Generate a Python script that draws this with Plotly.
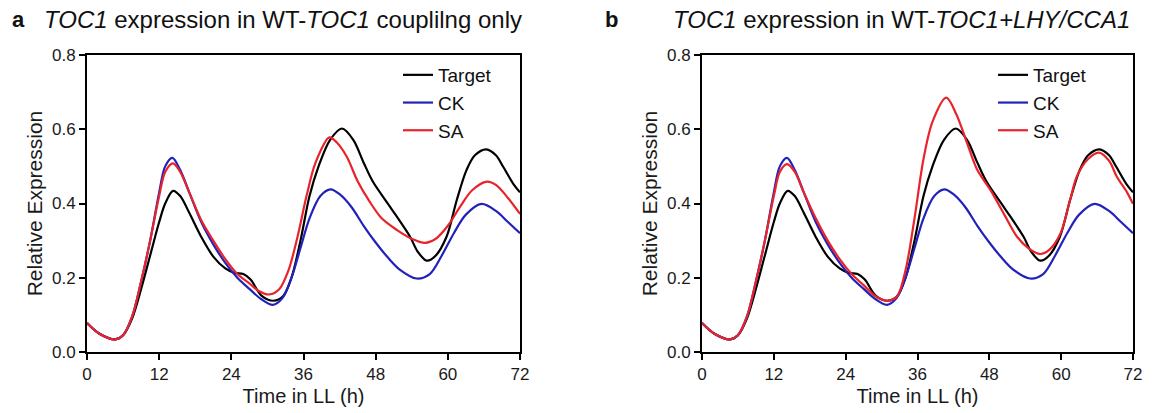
import plotly.graph_objects as go

# ---------------- data ----------------
target_t = [0, 2, 4.7, 6, 7.5, 9, 10.5, 12, 13, 14.3, 15.5, 17, 19, 21, 23, 24.5, 26, 27.2, 29, 31,
            32.6, 34, 35.5, 37, 38.5, 40.4, 42.4, 44.3, 46, 47.5, 50.4, 53.7, 55, 56.5, 58, 59.8,
            61.5, 63.1, 64.5, 66.4, 68, 69.2, 71, 72]
target_v = [0.078, 0.05, 0.034, 0.045, 0.09, 0.17, 0.26, 0.35, 0.40, 0.434, 0.42, 0.375, 0.31, 0.257,
            0.225, 0.213, 0.21, 0.195, 0.152, 0.138, 0.15, 0.20, 0.30, 0.42, 0.50, 0.571, 0.602,
            0.571, 0.51, 0.46, 0.391, 0.311, 0.27, 0.246, 0.26, 0.311, 0.41, 0.49, 0.53, 0.546,
            0.53, 0.499, 0.45, 0.43]

ck_t = [0, 2, 4.7, 6, 7.5, 9, 10.5, 12, 13, 14.2, 15.5, 17, 19, 21, 23, 25, 27, 29, 30.9, 32.5, 34,
        35.5, 37, 38.8, 40.5, 42, 44, 46, 48, 50, 52, 54.8, 57, 59, 61, 63, 65.6, 68, 70, 72]
ck_v = [0.078, 0.05, 0.034, 0.045, 0.095, 0.19, 0.30, 0.43, 0.50, 0.523, 0.49, 0.43, 0.35, 0.29,
        0.24, 0.20, 0.17, 0.142, 0.127, 0.145, 0.20, 0.28, 0.36, 0.42, 0.438, 0.425, 0.39, 0.34,
        0.295, 0.255, 0.222, 0.198, 0.21, 0.26, 0.32, 0.37, 0.399, 0.38, 0.35, 0.32]

sa_a_t = [0, 2, 4.7, 6, 7.5, 9, 10.5, 12, 13, 14.3, 15.5, 17, 19, 21, 23, 25, 27, 28.5, 30.3, 32,
          33.5, 35, 36.5, 38, 40.3, 41.5, 43.2, 45, 47, 49, 51.5, 54, 56.2, 58, 60, 62, 64, 66.5,
          68, 70, 72]
sa_a_v = [0.078, 0.05, 0.034, 0.045, 0.095, 0.19, 0.30, 0.42, 0.485, 0.508, 0.485, 0.43, 0.355,
          0.30, 0.25, 0.21, 0.185, 0.165, 0.155, 0.17, 0.22, 0.31, 0.42, 0.51, 0.578, 0.565,
          0.526, 0.46, 0.405, 0.36, 0.329, 0.305, 0.294, 0.305, 0.34, 0.39, 0.435, 0.459, 0.45,
          0.415, 0.372]

sa_b_t = [0, 2, 4.7, 6, 7.5, 9, 10.5, 12, 13, 14.2, 15.5, 17, 19, 21, 23, 25, 27, 29, 31, 32.6,
          34, 35.5, 37, 38.5, 40.8, 42.5, 44.3, 46, 48.2, 50.5, 52.6, 54.5, 56.5, 58, 59.9, 61.5,
          62.6, 64.5, 66.3, 68, 69.3, 71, 72]
sa_b_v = [0.078, 0.05, 0.034, 0.045, 0.095, 0.19, 0.30, 0.42, 0.485, 0.506, 0.485, 0.43, 0.36,
          0.30, 0.25, 0.21, 0.18, 0.15, 0.138, 0.15, 0.22, 0.36, 0.52, 0.62, 0.685, 0.64, 0.562,
          0.49, 0.436, 0.37, 0.311, 0.28, 0.264, 0.275, 0.32, 0.41, 0.472, 0.52, 0.537, 0.515,
          0.472, 0.43, 0.399]

x_ticks = [0, 12, 24, 36, 48, 60, 72]
y_ticks = [0.0, 0.2, 0.4, 0.6, 0.8]
y_tick_labels = ["0.0", "0.2", "0.4", "0.6", "0.8"]

series_names = ["Target", "CK", "SA"]
colors = {"Target": "#000000", "CK": "#2222bb", "SA": "#e8232b"}

FONT = "Liberation Sans, Arial, sans-serif"
W, H = 1173, 413

fig = go.Figure()

panels = [
    ("x", "y", "legend", [(target_t, target_v), (ck_t, ck_v), (sa_a_t, sa_a_v)]),
    ("x2", "y2", "legend2", [(target_t, target_v), (ck_t, ck_v), (sa_b_t, sa_b_v)]),
]
for xa, ya, leg, data in panels:
    for name, (t, v) in zip(series_names, data):
        fig.add_trace(go.Scatter(
            x=t, y=v, mode="lines", name=name, xaxis=xa, yaxis=ya, legend=leg,
            line=dict(color=colors[name], width=2.2, shape="spline", smoothing=0.9),
        ))

ydom = [1 - 352 / H, 1 - 55 / H]
axis_common = dict(
    showline=True, linecolor="black", linewidth=2, mirror=True,
    ticks="outside", ticklen=6, tickwidth=2, tickcolor="black",
    showgrid=False, zeroline=False,
    tickfont=dict(family=FONT, size=17, color="#1a1a1a"),
    automargin=False,
)
xcommon = dict(axis_common, range=[0, 72], tickvals=x_ticks,
               title=dict(text="Time in LL (h)", font=dict(family=FONT, size=20, color="#1a1a1a"), standoff=6))
ycommon = dict(axis_common, range=[0, 0.8], tickvals=y_ticks, ticktext=y_tick_labels,
               title=dict(text="Relative Expression", font=dict(family=FONT, size=21, color="#1a1a1a"), standoff=4))

legend_common = dict(
    font=dict(family=FONT, size=19, color="#111"),
    bgcolor="rgba(0,0,0,0)", borderwidth=0, xanchor="left", yanchor="top",
    tracegroupgap=0, itemwidth=30,
)

fig.update_layout(
    width=W, height=H,
    margin=dict(l=0, r=0, t=0, b=0),
    paper_bgcolor="white", plot_bgcolor="white",
    xaxis=dict(xcommon, domain=[87 / W, 520 / W], anchor="y"),
    yaxis=dict(ycommon, domain=ydom, anchor="x"),
    xaxis2=dict(xcommon, domain=[702 / W, 1133 / W], anchor="y2"),
    yaxis2=dict(ycommon, domain=ydom, anchor="x2"),
    legend=dict(legend_common, x=398 / W, y=1 - 56 / H),
    legend2=dict(legend_common, x=993 / W, y=1 - 56 / H),
    annotations=[
        dict(text="<b>a</b>", x=10 / W, y=1 - 20 / H, xref="paper", yref="paper",
             xanchor="left", yanchor="middle", showarrow=False,
             font=dict(family=FONT, size=22, color="#111")),
        dict(text="<i>TOC1</i> expression in WT-<i>TOC1</i> couplilng only", x=42 / W, y=1 - 20 / H,
             xref="paper", yref="paper", xanchor="left", yanchor="middle", showarrow=False,
             font=dict(family=FONT, size=24, color="#111")),
        dict(text="<b>b</b>", x=603 / W, y=1 - 20 / H, xref="paper", yref="paper",
             xanchor="left", yanchor="middle", showarrow=False,
             font=dict(family=FONT, size=22, color="#111")),
        dict(text="<i>TOC1</i> expression in WT-<i>TOC1+LHY/CCA1</i>", x=671 / W, y=1 - 20 / H,
             xref="paper", yref="paper", xanchor="left", yanchor="middle", showarrow=False,
             font=dict(family=FONT, size=24, color="#111")),
    ],
)

fig.write_html("out.html")
